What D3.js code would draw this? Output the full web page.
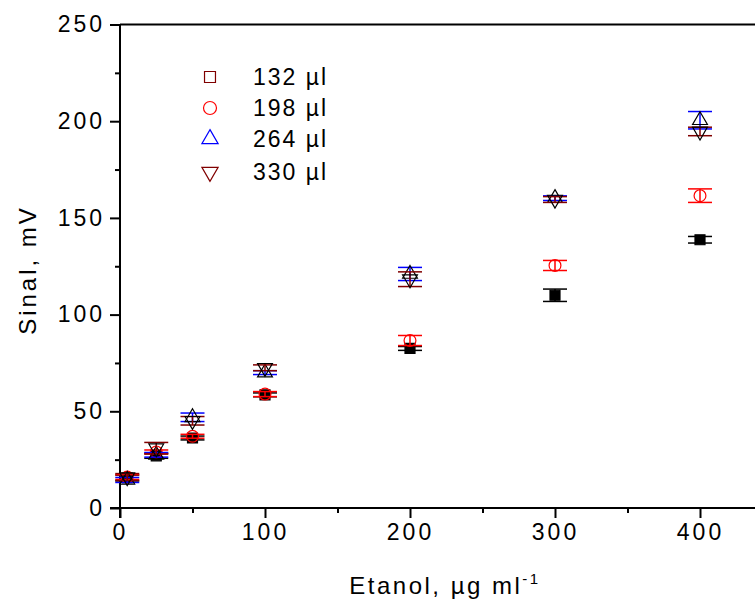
<!DOCTYPE html>
<html>
<head>
<meta charset="utf-8">
<script src="https://cdn.jsdelivr.net/npm/d3@7"></script>
<style>
  body { margin: 0; background: #fff; }
  text { font-family: "Liberation Sans", Arial, sans-serif; }
</style>
</head>
<body>
<div id="chart"></div>
<script>
// data
var conc = [5, 25, 50, 100, 200, 300, 400];
var names = ["132 \u00b5l", "198 \u00b5l", "264 \u00b5l", "330 \u00b5l"];
var v132 = [15.5, 27, 36.2, 58.5, 82.5, 110, 138.7];
var e132 = [1.5, 1.3, 1, 1, 1, 3.2, 1.7];
var v198 = [16, 29, 37.1, 58.9, 86.6, 125.4, 161.5];
var e198 = [1.2, 1, 1, 1.3, 2.6, 2.6, 3.5];
var v264 = [14.5, 27.5, 46.9, 70, 121, 160.2, 200.5];
var e264 = [1.3, 1.2, 2.2, 1, 3.4, 1.2, 4.5];
var v330 = [16, 30.9, 45.1, 72.5, 118.3, 159.5, 194.7];
var e330 = [1.8, 3, 2.2, 1.5, 3.8, 1.5, 2.2];
var xMajor = [0, 100, 200, 300, 400];
var xMinor = [50, 150, 250, 350];
var yMajor = [0, 50, 100, 150, 200, 250];
var yMinor = [25, 75, 125, 175, 225];

var svgWidth = 755;
var svgHeight = 599;

var svg = d3.select("#chart")
  .append("svg")
  .attr("width", svgWidth)
  .attr("height", svgHeight);

var x = d3.scaleLinear().domain([0, 450]).range([120, 772.5]);
var y = d3.scaleLinear().domain([0, 250]).range([508, 24.5]);

// series styles: marker shape, marker fill/stroke, error bar colour
var series = [
  {vals: v132, errs: e132, shape: d3.symbolSquare, size: 100, fill: "#000", stroke: "#000", bar: "#000", legend: "#800000"},
  {vals: v198, errs: e198, shape: d3.symbolCircle, size: 110, fill: "none", stroke: "#ff0000", bar: "#ff0000", legend: "#ff0000"},
  {vals: v264, errs: e264, shape: d3.symbolTriangle, size: 95, fill: "none", stroke: "#000", bar: "#0000ff", legend: "#0000ff"},
  {vals: v330, errs: e330, shape: d3.symbolTriangle, size: 95, fill: "none", stroke: "#000", bar: "#800000", legend: "#800000", flip: true}
];

// axes
function styleAxis(g) {
  g.select(".domain").remove();
  g.selectAll(".tick line").attr("stroke", "#000").attr("stroke-width", 2);
  g.selectAll(".tick text")
    .attr("font-size", 23)
    .attr("letter-spacing", 3)
    .attr("fill", "#000");
}

svg.append("g")
  .attr("transform", "translate(0,508)")
  .call(d3.axisBottom(x).tickValues(xMajor).tickSize(10).tickPadding(6))
  .call(styleAxis);

svg.append("g")
  .attr("transform", "translate(0,508)")
  .call(d3.axisBottom(x).tickValues(xMinor).tickSize(5).tickFormat(""))
  .call(styleAxis);

svg.append("g")
  .attr("transform", "translate(120,0)")
  .call(d3.axisLeft(y).tickValues(yMajor).tickSize(10).tickPadding(5))
  .call(styleAxis);

svg.append("g")
  .attr("transform", "translate(120,0)")
  .call(d3.axisLeft(y).tickValues(yMinor).tickSize(5).tickFormat(""))
  .call(styleAxis);

// frame lines
svg.append("line").attr("x1", 110).attr("x2", 755).attr("y1", y(0)).attr("y2", y(0))
  .attr("stroke", "#000").attr("stroke-width", 2);
svg.append("line").attr("x1", 120).attr("x2", 755).attr("y1", y(250)).attr("y2", y(250))
  .attr("stroke", "#000").attr("stroke-width", 2);
svg.append("line").attr("x1", 120).attr("x2", 120).attr("y1", y(250)).attr("y2", 518)
  .attr("stroke", "#000").attr("stroke-width", 2);

// error bars and markers
var capHalf = 12;
series.forEach(function(s) {
  var g = svg.append("g");
  conc.forEach(function(c, i) {
    var cx = x(c);
    var top = y(s.vals[i] + s.errs[i]);
    var bot = y(s.vals[i] - s.errs[i]);
    g.append("line").attr("x1", cx).attr("x2", cx).attr("y1", top).attr("y2", bot)
      .attr("stroke", s.bar).attr("stroke-width", 1.5);
    g.append("line").attr("x1", cx - capHalf).attr("x2", cx + capHalf).attr("y1", top).attr("y2", top)
      .attr("stroke", s.bar).attr("stroke-width", 1.5);
    g.append("line").attr("x1", cx - capHalf).attr("x2", cx + capHalf).attr("y1", bot).attr("y2", bot)
      .attr("stroke", s.bar).attr("stroke-width", 1.5);
  });
  g.selectAll("path.pt")
    .data(conc)
    .enter()
    .append("path")
    .attr("class", "pt")
    .attr("d", d3.symbol().type(s.shape).size(s.size))
    .attr("transform", function(d, i) {
      return "translate(" + x(d) + "," + y(s.vals[i]) + ")" + (s.flip ? " rotate(180)" : "");
    })
    .attr("fill", s.fill)
    .attr("stroke", s.stroke)
    .attr("stroke-width", 1.2);
});

// legend
var legendY = [77, 108, 139, 172];
series.forEach(function(s, i) {
  svg.append("path")
    .attr("d", d3.symbol().type(s.shape).size(s.size * 1.2))
    .attr("transform", "translate(210," + legendY[i] + ")" + (s.flip ? " rotate(180)" : ""))
    .attr("fill", "none")
    .attr("stroke", s.legend)
    .attr("stroke-width", 1.2);
  svg.append("text")
    .attr("x", 253)
    .attr("y", legendY[i] + 8)
    .attr("font-size", 23)
    .attr("letter-spacing", 2)
    .text(names[i]);
});

// axis titles
svg.append("text")
  .attr("transform", "translate(36,270) rotate(-90)")
  .attr("text-anchor", "middle")
  .attr("font-size", 24)
  .attr("letter-spacing", 3)
  .text("Sinal, mV");

var xt = svg.append("text")
  .attr("x", 445)
  .attr("y", 594)
  .attr("text-anchor", "middle")
  .attr("font-size", 24)
  .attr("letter-spacing", 2.5);
xt.append("tspan").text("Etanol, \u00b5g ml");
xt.append("tspan").attr("dy", -10).attr("font-size", 15).text("-1");
</script>
</body>
</html>
